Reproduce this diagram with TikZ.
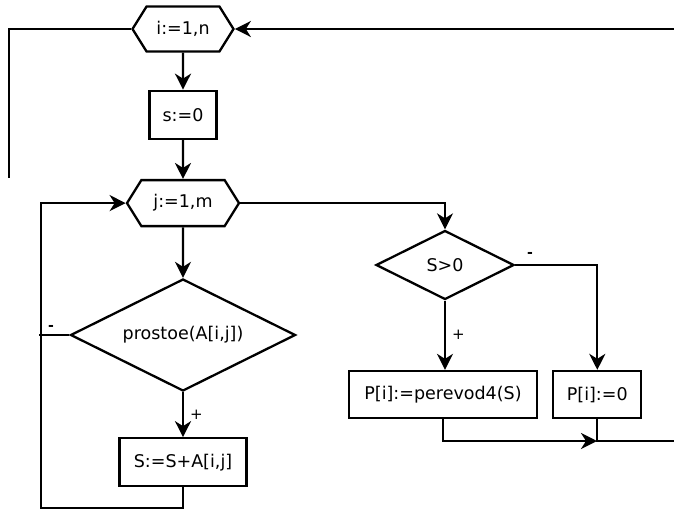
\documentclass[tikz,border=0pt]{standalone}
\usepackage{fontspec}
\setmainfont{DejaVu Sans}
\usepackage{tikz}
\usetikzlibrary{arrows.meta,positioning,shapes.geometric,shapes.symbols}
\tikzset{
  blk/.style={draw=black,line width=2.3pt,fill=white,inner sep=0pt,
              font=\fontsize{17.5}{21}\selectfont},
  hexa/.style={blk,signal,signal to=west and east,signal pointer angle=116,
               minimum height=45pt},
  proc/.style={blk,rectangle,minimum height=48pt},
  cond/.style={blk,diamond,aspect=2},
  flow/.style={line width=2.3pt,black},
  arr/.style={flow,-{Stealth[length=16pt,width=16pt,inset=5pt]}},
  sign/.style={font=\fontsize{15}{17}\selectfont,inner sep=1pt},
  minus/.style={font=\fontsize{14}{16}\selectfont\bfseries,inner sep=1pt},
}
\begin{document}
\begin{tikzpicture}[x=1pt,y=-1pt]
  \useasboundingbox (0,0) rectangle (674,509);
  % outer loop
  \node[hexa,minimum width=101pt] (hi) at (183,29) {i:=1,n};
  \node[proc,minimum width=67pt,below=37pt of hi] (s0) {s:=0};
  \node[hexa,minimum width=112pt,minimum height=46pt,below=39pt of s0] (hj) {j:=1,m};
  % inner loop body
  \node[cond,minimum width=225pt,minimum height=112pt] (prost) at (183,335) {prostoe(A[i,j])};
  \node[proc,minimum width=127pt,below=45pt of prost] (sum) {S:=S+A[i,j]};
  % after inner loop
  \node[cond,minimum width=138pt,minimum height=69pt] (sgt) at (445,265) {S>0};
  \node[proc,minimum width=188pt,minimum height=47pt] (pv) at (443,394.5) {P[i]:=perevod4(S)};
  \node[proc,minimum width=88pt,minimum height=47pt,right=14pt of pv] (p0) {P[i]:=0};
  \coordinate (iin) at (674,29);
  \coordinate (iret) at (9,178);
  \coordinate (jl) at (41,508);
  \coordinate (nomin) at ([xshift=-2pt]prost.west -| jl);
  \coordinate (merge) at (597,441);
  \coordinate (out) at (674,441);
  \draw[arr] (iin) -- (hi.east);
  \draw[flow] (hi.west) -| (iret);
  \draw[arr] (hi) -- (s0);
  \draw[arr] (s0) -- (hj);
  \draw[arr] (hj) -- (prost);
  \draw[arr] (prost) -- node[sign,right=5pt] {+} (sum);
  \draw[flow] (prost.west) -- node[minus,above=2pt,pos=0.6] {-} (nomin);
  \draw[arr] (sum.south) |- (jl) |- (hj.west);
  \draw[arr] (hj.east) -| (sgt.north);
  \draw[arr] (sgt.south) -- node[sign,right=5pt] {+} (sgt.south |- pv.north);
  \draw[arr] (sgt.east) -| node[minus,above=5pt,pos=0.09] {-} (p0.north);
  \draw[arr] (pv.south) |- (merge);
  \draw[flow] (p0.south) |- (out);
\end{tikzpicture}
\end{document}
